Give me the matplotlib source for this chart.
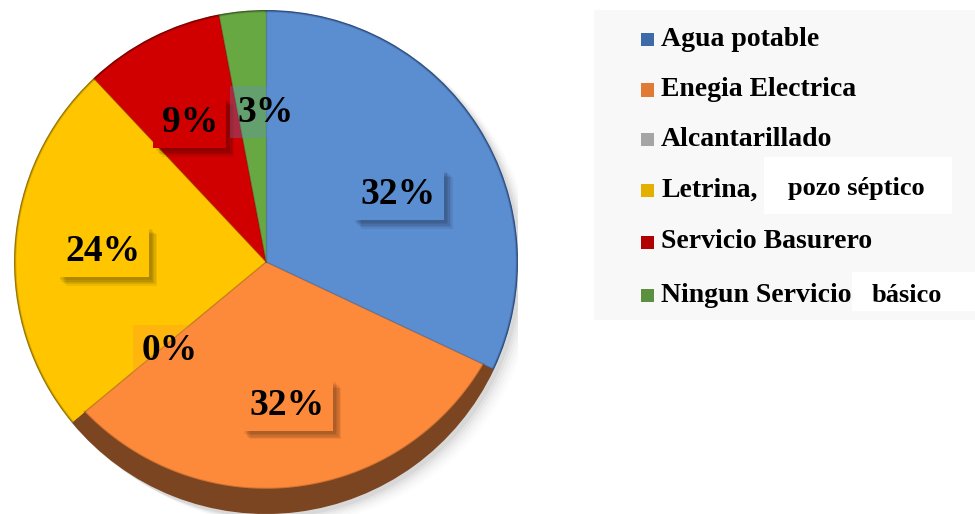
import numpy as np
import matplotlib
matplotlib.use("Agg")
import matplotlib.pyplot as plt
from matplotlib.patches import Rectangle, Polygon
import matplotlib.patheffects as pe

categories = ["Agua potable", "Enegia Electrica", "Alcantarillado",
              "Letrina,", "Servicio Basurero", "Ningun Servicio"]
values = [32, 32, 0, 24, 9, 3]
pct_labels = ["32%", "32%", "0%", "24%", "9%", "3%"]
colors = ["#5B8ED1", "#FD8A3B", "#A5A5A5", "#FFC600", "#D00000", "#68A843"]
dark_colors = ["#2E4E80", "#7A4520", "#6B6B6B", "#9A7600", "#7A0000", "#3C6326"]
legend_marker_colors = ["#3F6AA8", "#E07A35", "#A5A5A5", "#E3B000", "#B00000", "#5A9040"]
label_radius = [0.59, 0.575, 0.52, 0.648, 0.63, 0.595]
label_angle_shift = [-5.4, 1.2, 2.9, 0.0, 1.7, -5.4]
label_box_alpha = [1.0, 1.0, 0.25, 1.0, 1.0, 0.3]
face_lift = [0.0, 0.1, 0.0, 0.0, 0.0, 0.0]   # bevel depth per slice

SERIF = ["Liberation Serif", "DejaVu Serif"]

fig = plt.figure(figsize=(9.75, 5.14), dpi=100)
fig.patch.set_facecolor("white")

# legend background
fig.patches.append(Rectangle((594 / 975, 1 - 320 / 514), (975 - 594) / 975, 310 / 514,
                             transform=fig.transFigure, facecolor="#F8F8F8",
                             edgecolor="none", zorder=0))

cx, cy, R = 266, 262, 252
ax = fig.add_axes([(cx - R) / 975, (514 - cy - R) / 514, 2 * R / 975, 2 * R / 514])
ax.axis("off")

# soft shadow
for k, a in enumerate([0.045, 0.035, 0.028, 0.02, 0.015, 0.01]):
    ax.add_patch(plt.Circle((0.015 + 0.01 * k, -0.015 - 0.006 * k), 1.0,
                            facecolor="black", alpha=a, edgecolor="none", zorder=0))

# dark bevel layer (full circle) from the pie
dark_w, _ = ax.pie(values, colors=dark_colors, startangle=90, counterclock=False,
                   radius=1.0, center=(0, 0), wedgeprops=dict(linewidth=0))
for w in dark_w:
    w.set_zorder(1)


def face_radius(th, k):
    s = np.sin(th)
    t = s * k + np.sqrt((s * k) ** 2 - k ** 2 + 1)
    t = np.minimum(t, 0.995)
    return t * np.cos(th), t * s


for i, w in enumerate(dark_w):
    if w.theta2 - w.theta1 <= 0:
        continue
    ths = np.deg2rad(np.linspace(w.theta1, w.theta2, 300))
    xs, ys = face_radius(ths, face_lift[i])
    pts = np.column_stack([np.r_[0, xs], np.r_[0, ys]])
    ax.add_patch(Polygon(pts, closed=True, facecolor=colors[i], edgecolor="none",
                         zorder=2))
    ax.plot(xs, ys, color=dark_colors[i], lw=1.5, alpha=0.35, zorder=3)
    ax.plot([0, xs[0]], [0, ys[0]], color=dark_colors[i], lw=1.0, alpha=0.35, zorder=3)

ax.set_xlim(-1, 1)
ax.set_ylim(-1, 1)
ax.set_aspect("equal")

# labels placed from wedge angles
for i, w in enumerate(dark_w):
    mid = 0.5 * (w.theta1 + w.theta2) + label_angle_shift[i]
    r = label_radius[i]
    x = r * np.cos(np.deg2rad(mid))
    y = r * np.sin(np.deg2rad(mid))
    fc = colors[i] if i != 2 else colors[1]
    if i == 5:
        fc = colors[0]
    a = label_box_alpha[i]
    t = ax.text(x, y, pct_labels[i], ha="center", va="center", fontsize=27,
                fontweight="bold", family=SERIF, color="black", zorder=5,
                bbox=dict(boxstyle="square,pad=0.22", facecolor=fc, alpha=a,
                          edgecolor="none"))
    if a >= 1.0:
        effects = [pe.SimplePatchShadow(offset=(o, -o), shadow_rgbFace="black",
                                        alpha=0.07) for o in (6, 5, 4, 3, 2)]
        t.get_bbox_patch().set_path_effects(effects + [pe.Normal()])

# legend
rows_y = [40, 90, 140, 190, 242, 295]
for i, (lab, yy) in enumerate(zip(categories, rows_y)):
    yf = 1 - yy / 514
    fig.patches.append(Rectangle((641 / 975, yf - 6.5 / 514), 13 / 975, 13 / 514,
                                 transform=fig.transFigure,
                                 facecolor=legend_marker_colors[i], edgecolor="none",
                                 zorder=2))
    fig.text(661 / 975, yf, lab, ha="left", va="center", fontsize=20,
             fontweight="bold", family=SERIF, color="black", zorder=3)

# white boxes with extra text
fig.patches.append(Rectangle((764 / 975, 1 - 214 / 514), 188 / 975, 57 / 514,
                             transform=fig.transFigure, facecolor="white",
                             edgecolor="none", zorder=2))
fig.text(856 / 975, 1 - 189 / 514, "pozo séptico", ha="center", va="center",
         fontsize=19, fontweight="bold", family=SERIF, color="black", zorder=3)
fig.patches.append(Rectangle((852 / 975, 1 - 311 / 514), 123 / 975, 39 / 514,
                             transform=fig.transFigure, facecolor="white",
                             edgecolor="none", zorder=2))
fig.text(907 / 975, 1 - 296 / 514, "básico", ha="center", va="center",
         fontsize=19, fontweight="bold", family=SERIF, color="black", zorder=3)

fig.savefig("out.png", dpi=100)
